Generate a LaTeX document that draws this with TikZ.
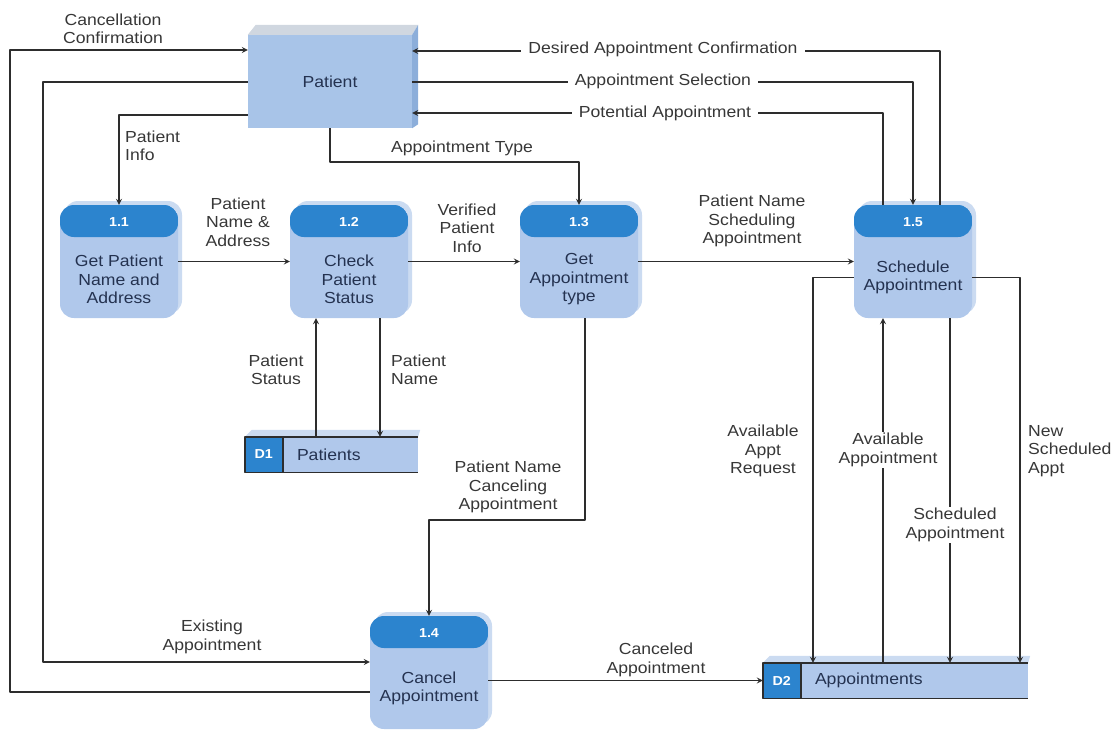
\documentclass[tikz,border=0pt]{standalone}
\usepackage{fontspec}
\setmainfont{Liberation Sans}[FakeStretch=1.1]
\usetikzlibrary{calc}
\definecolor{bodyblue}{RGB}{176,200,235}
\definecolor{backblue}{RGB}{203,219,241}
\definecolor{hdrblue}{RGB}{44,132,206}
\definecolor{frontblue}{RGB}{168,196,232}
\definecolor{topgray}{RGB}{208,215,224}
\definecolor{sideblue}{RGB}{140,174,218}
\definecolor{navy}{RGB}{36,50,80}
\definecolor{labelgray}{RGB}{55,55,55}
\definecolor{linegray}{RGB}{45,45,45}
\tikzset{
  txt/.style={font=\fontsize{16}{18.5}\selectfont},
  proc/.style={rectangle, rounded corners=14pt, minimum width=118, minimum height=113, inner sep=0pt, fill=bodyblue,
    path picture={\fill[hdrblue] (path picture bounding box.north west) rectangle ([yshift=-32pt]path picture bounding box.north east);}},
  ptxt/.style={txt, text=navy, align=center, inner sep=0pt},
  num/.style={font=\bfseries\fontsize{13}{15}\selectfont, text=white, inner sep=0pt},
  ent/.style={rectangle, minimum width=164, minimum height=93, fill=frontblue, text=navy, txt},
  store/.style={rectangle, minimum height=35, inner sep=0pt, fill=bodyblue,
    path picture={\fill[hdrblue] (path picture bounding box.north west) rectangle ([xshift=38pt]path picture bounding box.south west);}},
  storeline/.style={draw=linegray, line width=1.4pt},
  flow/.style={->, draw=linegray, line width=1.6pt},
  lbl/.style={txt, text=labelgray, align=center, inner sep=1pt},
  cut/.style={lbl, fill=white, inner xsep=7pt}
}
\begin{document}
\begin{tikzpicture}[x=1pt, y=-1pt, >=stealth, line join=round]
\useasboundingbox (0,0) rectangle (1119,731);
% back faces of the processes
\foreach \x/\y in {119/261.5, 349/261.5, 579/261.5, 429/672.5, 913/261.5}
  \fill[backblue, rounded corners=14pt] (\x-55,\y-60.5) rectangle (\x+63,\y+52.5);
% external entity
\node[ent] (patient) at (330,81.5) {Patient};
\fill[topgray] (patient.north west) -- ++(8,-10) -- ([shift={(6,-10)}]patient.north east) -- (patient.north east) -- cycle;
\fill[sideblue] (patient.north east) -- ([shift={(6,-10)}]patient.north east) -- ([shift={(6,-4)}]patient.south east) -- (patient.south east) -- cycle;
% processes
\node[proc] (p11) at (119,261.5) {};
\node[proc] (p12) at (349,261.5) {};
\node[proc] (p13) at (579,261.5) {};
\node[proc] (p14) at (429,672.5) {};
\node[proc] (p15) at (913,261.5) {};
\foreach \p/\n in {p11/1.1, p12/1.2, p13/1.3, p14/1.4, p15/1.5}
  \node[num] (n\p) at ([yshift=-17pt]\p.north) {\n};
\node[ptxt] (t11) at ([yshift=-18pt]p11.center) {Get Patient\\Name and\\Address};
\node[ptxt] (t12) at ([yshift=-18pt]p12.center) {Check\\Patient\\Status};
\node[ptxt] (t13) at ([yshift=-18pt]p13.center) {Get\\Appointment\\type};
\node[ptxt] (t14) at ([yshift=-16pt]p14.center) {Cancel\\Appointment};
\node[ptxt] (t15) at ([yshift=-16pt]p15.center) {Schedule\\Appointment};
% data stores
\node[store, minimum width=173] (d1) at (331.5,454.5) {};
\node[store, minimum width=265] (d2) at (895.5,680.5) {};
\foreach \s in {d1,d2} {
  \fill[backblue] (\s.north west) -- ++(7,-7) -- ([shift={(2,-7)}]\s.north east) -- (\s.north east) -- cycle;
  \draw[storeline] (\s.north east) -- (\s.north west) -- (\s.south west) -- (\s.south east);
  \draw[storeline] ([xshift=38pt]\s.north west) -- ([xshift=38pt]\s.south west);
}
\node[num] (d1id) at ([xshift=19pt]d1.west) {D1};
\node[ptxt, anchor=west] (d1t) at ([xshift=52pt]d1.west) {Patients};
\node[num] (d2id) at ([xshift=19pt]d2.west) {D2};
\node[ptxt, anchor=west] (d2t) at ([xshift=52pt]d2.west) {Appointments};
% flows
\draw[flow] (p14.west |- 0,692) -| (10,50) -- (patient.west |- 0,50);
\draw[flow] (patient.west |- 0,82) -| (43,662) -- (p14.west |- 0,662);
\draw[flow] (patient.west |- 0,115) -| (p11.north);
\draw[flow] (patient.south) -- ++(0,34) -| (p13.north);
\draw[flow] (p15.north -| 940,0) |- (patient.east |- 0,51);
\draw[flow] (patient.east |- 0,82) -| (p15.north);
\draw[flow] (p15.north -| 883,0) |- (patient.east |- 0,113);
\draw[flow] (p11.east) -- (p12.west);
\draw[flow] (p12.east) -- (p13.west);
\draw[flow] (p13.east) -- (p15.west);
\draw[flow] (d1.north -| 316,0) -- (p12.south -| 316,0);
\draw[flow] (p12.south -| 380,0) -- (d1.north -| 380,0);
\draw[flow] (p13.south -| 585,0) -- (585,520) -| (p14.north);
\draw[flow] (p14.east |- d2.west) -- (d2.west);
\draw[flow] ([yshift=-16pt]p15.west) -| (d2.north -| 813,0);
\draw[flow] (d2.north -| 883,0) -- (p15.south -| 883,0);
\draw[flow] (p15.south -| 950,0) -- (d2.north -| 950,0);
\draw[flow] ([yshift=-16pt]p15.east) -| (d2.north -| 1020,0);
% flow labels
\node[lbl] (lcancel) at (113,29) {Cancellation\\Confirmation};
\node[lbl] (lexist) at (212,637) {Existing\\Appointment};
\node[lbl, anchor=west, align=left] (linfo) at (124,146) {Patient\\Info};
\node[lbl] (ltype) at (462,148) {Appointment Type};
\node[cut] (ldesired) at (663,49) {Desired Appointment Confirmation};
\node[cut] (lselect) at (663,81) {Appointment Selection};
\node[cut] (lpotent) at (665,113) {Potential Appointment};
\node[lbl] (lnameaddr) at (238,222) {Patient\\Name \&\\Address};
\node[lbl] (lverif) at (467,228) {Verified\\Patient\\Info};
\node[lbl] (lsched) at (752,221) {Patient Name\\Scheduling\\Appointment};
\node[lbl] (lstatus) at (276,370) {Patient\\Status};
\node[lbl, anchor=west, align=left] (lpname) at (390,370) {Patient\\Name};
\node[lbl] (lcanceling) at (508,487) {Patient Name\\Canceling\\Appointment};
\node[lbl] (lcanceled) at (656,660) {Canceled\\Appointment};
\node[lbl] (lrequest) at (763,451) {Available\\Appt\\Request};
\node[cut] (lavail) at (888,450) {Available\\Appointment};
\node[cut] (lscheduled) at (955,525) {Scheduled\\Appointment};
\node[lbl, anchor=west, align=left] (lnew) at (1027,451) {New\\Scheduled\\Appt};
\end{tikzpicture}
\end{document}
